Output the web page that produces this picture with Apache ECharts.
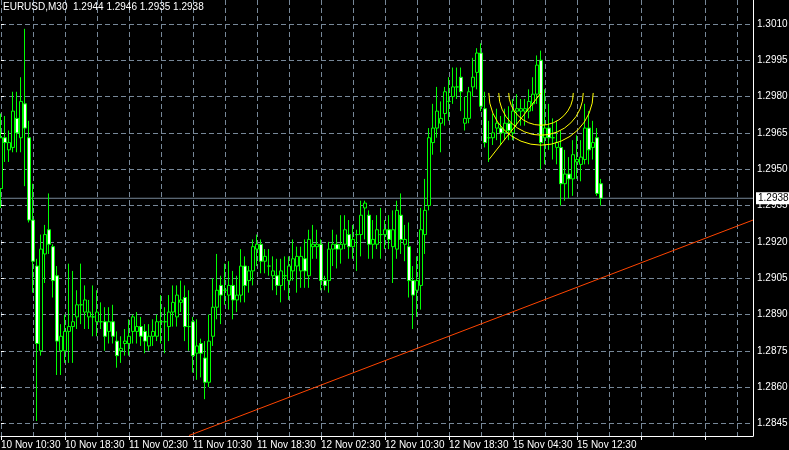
<!DOCTYPE html>
<html><head><meta charset="utf-8">
<script src="https://cdn.jsdelivr.net/npm/echarts@6/dist/echarts.min.js"></script>
<style>html,body{margin:0;padding:0;background:#000;}#c{width:789px;height:450px;}</style>
</head><body><div id="c"></div>
<script>
const symbol = 'EURUSD,M30';
const tickLabels = ['10 Nov 10:30','10 Nov 18:30','11 Nov 02:30','11 Nov 10:30','11 Nov 18:30','12 Nov 02:30','12 Nov 10:30','12 Nov 18:30','15 Nov 04:30','15 Nov 12:30'];
const barsPerLabel = 16;
const totalSlots = 189;

const open = [1.2942,1.2963,1.2958,1.2959,1.2971,1.2963,1.2977,1.2963,1.2929,1.2910,1.2875,1.2915,1.2925,1.2918,1.2906,1.2875,1.2875,1.2883,1.2885,1.2889,1.2894,1.2891,1.2889,1.2889,1.2887,1.2887,1.2887,1.2883,1.2887,1.2879,1.2875,1.2878,1.2878,1.2883,1.2883,1.2885,1.2883,1.2877,1.2881,1.2881,1.2887,1.2887,1.2885,1.2891,1.2889,1.2895,1.2897,1.2885,1.2887,1.2874,1.2878,1.2872,1.2862,1.2881,1.2893,1.2902,1.2900,1.2898,1.2902,1.2896,1.2898,1.2910,1.2904,1.2908,1.2917,1.2919,1.2912,1.2910,1.2906,1.2906,1.2902,1.2906,1.2904,1.2908,1.2910,1.2908,1.2913,1.2906,1.2918,1.2918,1.2919,1.2904,1.2904,1.2917,1.2919,1.2917,1.2919,1.2923,1.2918,1.2923,1.2923,1.2934,1.2931,1.2919,1.2919,1.2923,1.2923,1.2925,1.2918,1.2917,1.2931,1.2919,1.2918,1.2904,1.2900,1.2902,1.2923,1.2935,1.2961,1.2967,1.2969,1.2973,1.2978,1.2980,1.2984,1.2988,1.2969,1.2971,1.2984,1.2990,1.2998,1.2975,1.2963,1.2963,1.2967,1.2967,1.2965,1.2969,1.2965,1.2974,1.2974,1.2974,1.2974,1.2977,1.2981,1.2995,1.2963,1.2967,1.2963,1.2959,1.2959,1.2944,1.2948,1.2946,1.2953,1.2952,1.2954,1.2967,1.2959,1.2963,1.2944];
const close = [1.2963,1.2961,1.2961,1.2974,1.2965,1.2978,1.2967,1.2929,1.2912,1.2878,1.2917,1.2923,1.2919,1.2904,1.2879,1.2881,1.2883,1.2885,1.2887,1.2894,1.2894,1.2896,1.2891,1.2889,1.2891,1.2887,1.2881,1.2887,1.2881,1.2873,1.2876,1.2879,1.2881,1.2889,1.2885,1.2881,1.2879,1.2881,1.2883,1.2887,1.2887,1.2887,1.2891,1.2895,1.2898,1.2896,1.2885,1.2885,1.2873,1.2877,1.2874,1.2862,1.2879,1.2893,1.2900,1.2898,1.2900,1.2902,1.2896,1.2898,1.2910,1.2902,1.2908,1.2918,1.2919,1.2912,1.2914,1.2910,1.2908,1.2902,1.2908,1.2906,1.2910,1.2913,1.2914,1.2914,1.2908,1.2921,1.2919,1.2919,1.2904,1.2902,1.2917,1.2919,1.2917,1.2919,1.2925,1.2918,1.2921,1.2923,1.2931,1.2936,1.2919,1.2921,1.2925,1.2923,1.2925,1.2921,1.2925,1.2933,1.2921,1.2921,1.2904,1.2898,1.2904,1.2925,1.2933,1.2963,1.2967,1.2974,1.2971,1.2982,1.2978,1.2984,1.2984,1.2982,1.2971,1.2982,1.2988,1.2998,1.2976,1.2961,1.2963,1.2965,1.2969,1.2965,1.2969,1.2966,1.2974,1.2975,1.2975,1.2975,1.2978,1.2981,1.2993,1.2961,1.2967,1.2963,1.2963,1.2961,1.2944,1.2948,1.2946,1.2956,1.2954,1.2955,1.2967,1.2958,1.2961,1.2940,1.2938];
const high = [1.2973,1.2972,1.2966,1.2982,1.2982,1.2988,1.3008,1.2970,1.2944,1.2913,1.2923,1.2927,1.2940,1.2919,1.2910,1.2886,1.2890,1.2911,1.2908,1.2900,1.2911,1.2902,1.2896,1.2902,1.2900,1.2895,1.2893,1.2893,1.2894,1.2883,1.2881,1.2884,1.2888,1.2890,1.2891,1.2889,1.2886,1.2886,1.2888,1.2890,1.2898,1.2893,1.2898,1.2902,1.2902,1.2904,1.2902,1.2900,1.2889,1.2888,1.2880,1.2879,1.2890,1.2905,1.2915,1.2906,1.2911,1.2912,1.2908,1.2906,1.2917,1.2914,1.2910,1.2921,1.2923,1.2921,1.2917,1.2917,1.2914,1.2913,1.2913,1.2914,1.2914,1.2921,1.2918,1.2918,1.2921,1.2925,1.2927,1.2925,1.2921,1.2906,1.2920,1.2925,1.2923,1.2931,1.2931,1.2929,1.2927,1.2925,1.2937,1.2937,1.2933,1.2929,1.2931,1.2934,1.2929,1.2931,1.2933,1.2937,1.2940,1.2927,1.2928,1.2910,1.2914,1.2934,1.2946,1.2967,1.2977,1.2984,1.2978,1.2984,1.2988,1.2992,1.2992,1.2992,1.2980,1.2984,1.2996,1.3000,1.3002,1.2982,1.2970,1.2973,1.2975,1.2972,1.2975,1.2976,1.2979,1.2981,1.2979,1.2979,1.2983,1.2988,1.2997,1.2999,1.2983,1.2977,1.2971,1.2970,1.2966,1.2958,1.2955,1.2962,1.2964,1.2962,1.2977,1.2974,1.2970,1.2967,1.2946];
const low = [1.2934,1.2953,1.2953,1.2957,1.2957,1.2957,1.2943,1.2928,1.2899,1.2846,1.2873,1.2903,1.2915,1.2897,1.2865,1.2865,1.2870,1.2870,1.2870,1.2884,1.2886,1.2884,1.2884,1.2881,1.2881,1.2884,1.2875,1.2878,1.2878,1.2868,1.2870,1.2873,1.2873,1.2878,1.2878,1.2877,1.2874,1.2875,1.2877,1.2879,1.2878,1.2874,1.2879,1.2885,1.2885,1.2891,1.2879,1.2875,1.2866,1.2863,1.2864,1.2855,1.2860,1.2877,1.2888,1.2886,1.2894,1.2892,1.2888,1.2891,1.2895,1.2895,1.2899,1.2902,1.2910,1.2907,1.2907,1.2906,1.2900,1.2898,1.2895,1.2900,1.2896,1.2904,1.2899,1.2901,1.2901,1.2901,1.2913,1.2913,1.2900,1.2900,1.2899,1.2910,1.2909,1.2911,1.2917,1.2913,1.2913,1.2908,1.2914,1.2921,1.2913,1.2913,1.2917,1.2913,1.2917,1.2917,1.2903,1.2913,1.2915,1.2912,1.2897,1.2884,1.2889,1.2892,1.2915,1.2933,1.2956,1.2963,1.2957,1.2968,1.2970,1.2977,1.2979,1.2974,1.2966,1.2969,1.2980,1.2983,1.2974,1.2959,1.2953,1.2960,1.2962,1.2960,1.2962,1.2962,1.2962,1.2968,1.2968,1.2968,1.2971,1.2974,1.2977,1.2950,1.2952,1.2958,1.2954,1.2952,1.2935,1.2937,1.2938,1.2939,1.2946,1.2945,1.2952,1.2952,1.2954,1.2939,1.2935];

const priceTickMin = 1.2845, priceTickMax = 1.3010, priceTickStep = 0.0015;
const viewMin = 1.28398, viewMax = 1.30199;
const bidPrice = 1.2938;
const trendX = [47, 188];
const trendY = [1.2840, 1.2929];
const fibFrom = [122, 1.2954];
const fibTo = [135, 1.29815];
const fibLevels = [0.382, 0.5, 0.618];

const GRID = '#778899';
const FONT = 'Liberation Sans, Arial, sans-serif';
const last = open.length - 1;
const slots = Array.from({length: totalSlots}, (_, i) => String(i));
const candles = open.map((o, i) => [o, close[i], low[i], high[i]]);

const chart = echarts.init(document.getElementById('c'), null, {renderer: 'canvas'});
chart.setOption({
  backgroundColor: '#000',
  animation: false,
  textStyle: {fontFamily: FONT},
  title: {
    text: symbol + '  ' + [open[last], high[last], low[last], close[last]].map(v => v.toFixed(4)).join(' '),
    left: 3, top: 2, padding: 0,
    textStyle: {color: '#fff', fontSize: 10, fontWeight: 'normal', fontFamily: FONT}
  },
  grid: [
    {left: 1, right: 36, top: 0, bottom: 14, outerBoundsMode: 'none', containLabel: false},
    {left: 1, right: 36, top: 24, height: 399.5, outerBoundsMode: 'none', containLabel: false}
  ],
  xAxis: [
    {
      type: 'category', gridIndex: 0, data: slots, boundaryGap: false,
      axisLine: {show: true, lineStyle: {color: '#fff', width: 1}},
      axisTick: {show: true, interval: barsPerLabel - 1, length: 4, lineStyle: {color: '#fff'}},
      axisLabel: {
        show: true, interval: barsPerLabel - 1, color: '#fff', fontSize: 10, align: 'left', margin: 4,
        formatter: (v, i) => (i % barsPerLabel === 0 && tickLabels[i / barsPerLabel]) ? tickLabels[i / barsPerLabel] : ''
      },
      splitLine: {show: true, interval: 7, lineStyle: {color: GRID, type: [5, 3], width: 1}}
    },
    {type: 'value', gridIndex: 1, min: 0, max: 1, show: false}
  ],
  yAxis: [
    {
      type: 'value', gridIndex: 0, position: 'right', min: viewMin, max: viewMax, scale: true,
      axisLine: {show: true, lineStyle: {color: '#fff', width: 1}},
      axisTick: {show: false}, axisLabel: {show: false}, splitLine: {show: false}
    },
    {
      type: 'value', gridIndex: 1, position: 'right', min: priceTickMin, max: priceTickMax, interval: priceTickStep, scale: true,
      axisLine: {show: false},
      axisTick: {show: true, length: 3, lineStyle: {color: '#fff'}},
      axisLabel: {show: true, color: '#fff', fontSize: 10, margin: 4, formatter: v => v.toFixed(4)},
      splitLine: {show: true, lineStyle: {color: GRID, type: [5, 3], width: 1}}
    }
  ],
  series: [
    {
      type: 'line', xAxisIndex: 0, yAxisIndex: 0, silent: true, symbol: 'none', z: 1,
      data: [[0, bidPrice], [totalSlots - 1, bidPrice]],
      lineStyle: {color: GRID, width: 1, type: 'solid'},
      endLabel: {
        show: true, formatter: bidPrice.toFixed(4), distance: 3,
        color: '#000', backgroundColor: '#fff', fontSize: 10, fontFamily: FONT, padding: [1, 2, 1, 2]
      }
    },
    {
      type: 'candlestick', xAxisIndex: 0, yAxisIndex: 0, data: candles, barWidth: 3, z: 3,
      itemStyle: {color: '#000', color0: '#fff', borderColor: '#00ff00', borderColor0: '#00ff00', borderWidth: 1}
    },
    {
      type: 'line', xAxisIndex: 0, yAxisIndex: 0, silent: true, symbol: 'none', z: 4,
      data: trendX.map((x, i) => [x, trendY[i]]),
      lineStyle: {color: '#ff4500', width: 1}
    },
    {
      type: 'custom', xAxisIndex: 0, yAxisIndex: 0, silent: true, z: 5, data: [[fibTo[0], fibTo[1]]],
      renderItem: (params, api) => {
        const a = api.coord(fibFrom), b = api.coord(fibTo);
        const d = Math.hypot(b[0] - a[0], b[1] - a[1]);
        const children = fibLevels.map(l => ({
          type: 'arc',
          shape: {cx: b[0], cy: b[1], r: d * l, startAngle: 0, endAngle: Math.PI, clockwise: true},
          style: {stroke: '#ffff00', fill: 'none', lineWidth: 1}
        }));
        children.push({type: 'line', shape: {x1: a[0], y1: a[1], x2: b[0], y2: b[1]}, style: {stroke: '#ffff00', lineWidth: 1}});
        return {type: 'group', children};
      }
    }
  ]
});
</script></body></html>
